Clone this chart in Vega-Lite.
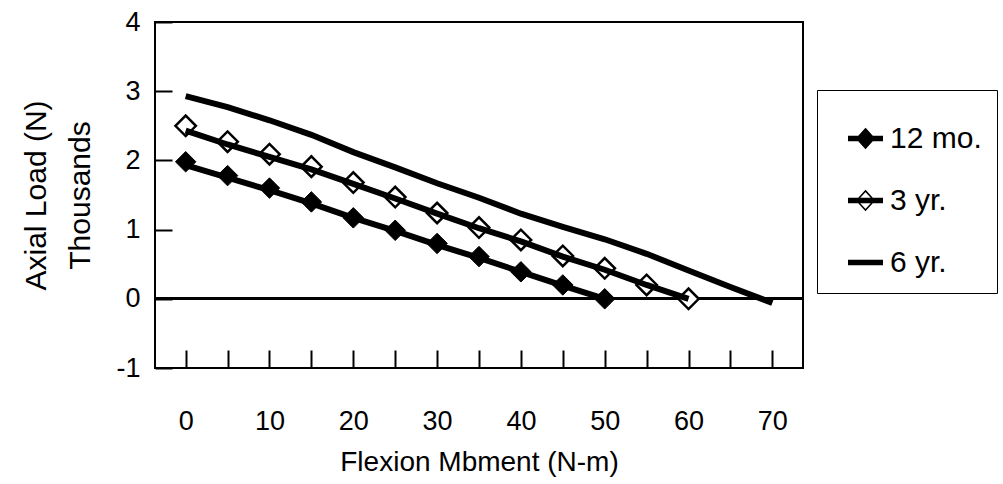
{
  "$schema": "https://vega.github.io/schema/vega-lite/v6.json",
  "autosize": "none",
  "width": 648,
  "height": 346,
  "padding": {"left": 155, "top": 22, "right": 200, "bottom": 116},
  "background": "white",
  "config": {
    "font": "Liberation Sans",
    "view": {"stroke": "black", "strokeWidth": 2},
    "axis": {"grid": false, "domain": false, "labelColor": "black", "titleColor": "black", "tickColor": "black", "titleFontWeight": "normal"}
  },
  "datasets": {
    "markers": [
      {"series": "12 mo.", "x": 0, "load": 1.98},
      {"series": "12 mo.", "x": 5, "load": 1.78},
      {"series": "12 mo.", "x": 10, "load": 1.6},
      {"series": "12 mo.", "x": 15, "load": 1.4},
      {"series": "12 mo.", "x": 20, "load": 1.17},
      {"series": "12 mo.", "x": 25, "load": 0.99},
      {"series": "12 mo.", "x": 30, "load": 0.8},
      {"series": "12 mo.", "x": 35, "load": 0.61},
      {"series": "12 mo.", "x": 40, "load": 0.39},
      {"series": "12 mo.", "x": 45, "load": 0.2},
      {"series": "12 mo.", "x": 50, "load": 0.0},
      {"series": "3 yr.", "x": 0, "load": 2.5},
      {"series": "3 yr.", "x": 5, "load": 2.27},
      {"series": "3 yr.", "x": 10, "load": 2.09},
      {"series": "3 yr.", "x": 15, "load": 1.91},
      {"series": "3 yr.", "x": 20, "load": 1.68},
      {"series": "3 yr.", "x": 25, "load": 1.47},
      {"series": "3 yr.", "x": 30, "load": 1.24},
      {"series": "3 yr.", "x": 35, "load": 1.03},
      {"series": "3 yr.", "x": 40, "load": 0.85},
      {"series": "3 yr.", "x": 45, "load": 0.62},
      {"series": "3 yr.", "x": 50, "load": 0.44},
      {"series": "3 yr.", "x": 55, "load": 0.2},
      {"series": "3 yr.", "x": 60, "load": 0.0}
    ],
    "curves": [
      {"series": "12 mo.", "x": 0, "load": 1.93},
      {"series": "12 mo.", "x": 5, "load": 1.75},
      {"series": "12 mo.", "x": 10, "load": 1.57},
      {"series": "12 mo.", "x": 15, "load": 1.38},
      {"series": "12 mo.", "x": 20, "load": 1.17},
      {"series": "12 mo.", "x": 25, "load": 0.98},
      {"series": "12 mo.", "x": 30, "load": 0.78},
      {"series": "12 mo.", "x": 35, "load": 0.59},
      {"series": "12 mo.", "x": 40, "load": 0.39},
      {"series": "12 mo.", "x": 45, "load": 0.19},
      {"series": "12 mo.", "x": 50, "load": 0.0},
      {"series": "3 yr.", "x": 0, "load": 2.43},
      {"series": "3 yr.", "x": 5, "load": 2.23},
      {"series": "3 yr.", "x": 10, "load": 2.05},
      {"series": "3 yr.", "x": 15, "load": 1.87},
      {"series": "3 yr.", "x": 20, "load": 1.66},
      {"series": "3 yr.", "x": 25, "load": 1.45},
      {"series": "3 yr.", "x": 30, "load": 1.23},
      {"series": "3 yr.", "x": 35, "load": 1.02},
      {"series": "3 yr.", "x": 40, "load": 0.83},
      {"series": "3 yr.", "x": 45, "load": 0.61},
      {"series": "3 yr.", "x": 50, "load": 0.42},
      {"series": "3 yr.", "x": 55, "load": 0.2},
      {"series": "3 yr.", "x": 60, "load": 0.0},
      {"series": "6 yr.", "x": 0, "load": 2.93},
      {"series": "6 yr.", "x": 5, "load": 2.77},
      {"series": "6 yr.", "x": 10, "load": 2.58},
      {"series": "6 yr.", "x": 15, "load": 2.37},
      {"series": "6 yr.", "x": 20, "load": 2.12},
      {"series": "6 yr.", "x": 25, "load": 1.9},
      {"series": "6 yr.", "x": 30, "load": 1.67},
      {"series": "6 yr.", "x": 35, "load": 1.46},
      {"series": "6 yr.", "x": 40, "load": 1.23},
      {"series": "6 yr.", "x": 45, "load": 1.04},
      {"series": "6 yr.", "x": 50, "load": 0.86},
      {"series": "6 yr.", "x": 55, "load": 0.65},
      {"series": "6 yr.", "x": 60, "load": 0.41},
      {"series": "6 yr.", "x": 65, "load": 0.17},
      {"series": "6 yr.", "x": 70, "load": -0.06}
    ]
  },
  "layer": [
    {
      "data": {"name": "curves"},
      "mark": {"type": "rule", "color": "black", "strokeWidth": 2},
      "encoding": {"y": {"datum": 0, "type": "quantitative"}}
    },
    {
      "data": {"name": "markers"},
      "transform": [{"filter": "datum.series === '12 mo.'"}],
      "mark": {"type": "point", "shape": "diamond", "size": 420, "strokeWidth": 1, "opacity": 1, "stroke": "black", "fill": "black", "filled": true},
      "encoding": {
        "x": {"field": "x", "type": "quantitative", "scale": {"domain": [-3.66, 73.66], "nice": false, "zero": false},
          "axis": {"values": [0,5,10,15,20,25,30,35,40,45,50,55,60,65,70], "labelExpr": "datum.value % 10 === 0 ? datum.label : ''", "tickSize": -18, "tickWidth": 2, "labelPadding": 58, "labelFontSize": 27, "title": "Flexion Mbment (N-m)", "titleFontSize": 28, "titlePadding": 14}},
        "y": {"field": "load", "type": "quantitative", "scale": {"domain": [-1, 4], "nice": false, "zero": false},
          "axis": {"values": [-1,0,1,2,3,4], "labelExpr": "datum.value < 0 ? '-' + abs(datum.value) : '' + datum.value", "tickSize": -17, "tickWidth": 2, "labelPadding": 32, "labelFontSize": 27, "title": ["Axial Load (N)", "Thousands"], "titleFontSize": 30, "titlePadding": 20, "titleLineHeight": 44}}
      }
    },
    {
      "data": {"name": "markers"},
      "transform": [{"filter": "datum.series === '3 yr.'"}],
      "mark": {"type": "point", "shape": "diamond", "size": 420, "strokeWidth": 2.5, "opacity": 1, "stroke": "black", "fill": "white", "filled": false},
      "encoding": {
        "x": {"field": "x", "type": "quantitative"},
        "y": {"field": "load", "type": "quantitative"}
      }
    },
    {
      "data": {"name": "curves"},
      "mark": {"type": "line", "color": "black", "strokeWidth": 6, "strokeCap": "butt", "strokeJoin": "miter"},
      "encoding": {
        "x": {"field": "x", "type": "quantitative"},
        "y": {"field": "load", "type": "quantitative"},
        "detail": {"field": "series", "type": "nominal"}
      }
    },
    {
      "data": {"name": "curves"},
      "transform": [{"filter": "datum.x < -100"}],
      "mark": {"type": "point", "filled": false, "stroke": "black", "strokeWidth": 2, "opacity": 1},
      "encoding": {
        "x": {"field": "x", "type": "quantitative"},
        "y": {"field": "load", "type": "quantitative"},
        "shape": {"field": "series", "type": "nominal", "scale": {"domain": ["12 mo.", "3 yr.", "6 yr."], "range": [
          "M0,-0.55L0.5,0L0,0.55L-0.5,0Z M-1,-0.12H1M-1,-0.06H1M-1,0H1M-1,0.06H1M-1,0.12H1",
          "M0,-0.55L0.5,0L0,0.55L-0.5,0Z M-1,-0.12H1M-1,-0.06H1M-1,0H1M-1,0.06H1M-1,0.12H1",
          "M-1,-0.12H1M-1,-0.06H1M-1,0H1M-1,0.06H1M-1,0.12H1"]},
          "legend": {"orient": "none", "legendX": 662, "legendY": 68, "title": " ", "titleFontSize": 10, "titlePadding": 5,
            "padding": 15, "strokeColor": "black", "fillColor": "white", "symbolSize": 1225, "symbolOffset": 15,
            "labelFontSize": 30, "labelColor": "black", "labelOffset": 6, "rowPadding": 28, "labelLimit": 400,
            "encode": {"legend": {"update": {"strokeWidth": {"value": 2}}},
              "symbols": {"update": {"strokeWidth": {"value": 2}, "stroke": {"value": "black"}, "opacity": {"value": 1}, "fillOpacity": {"value": 1}, "strokeOpacity": {"value": 1}}}}}},
        "fill": {"field": "series", "type": "nominal", "scale": {"domain": ["12 mo.", "3 yr.", "6 yr."], "range": ["black", "white", "black"]}}
      }
    }
  ]
}
